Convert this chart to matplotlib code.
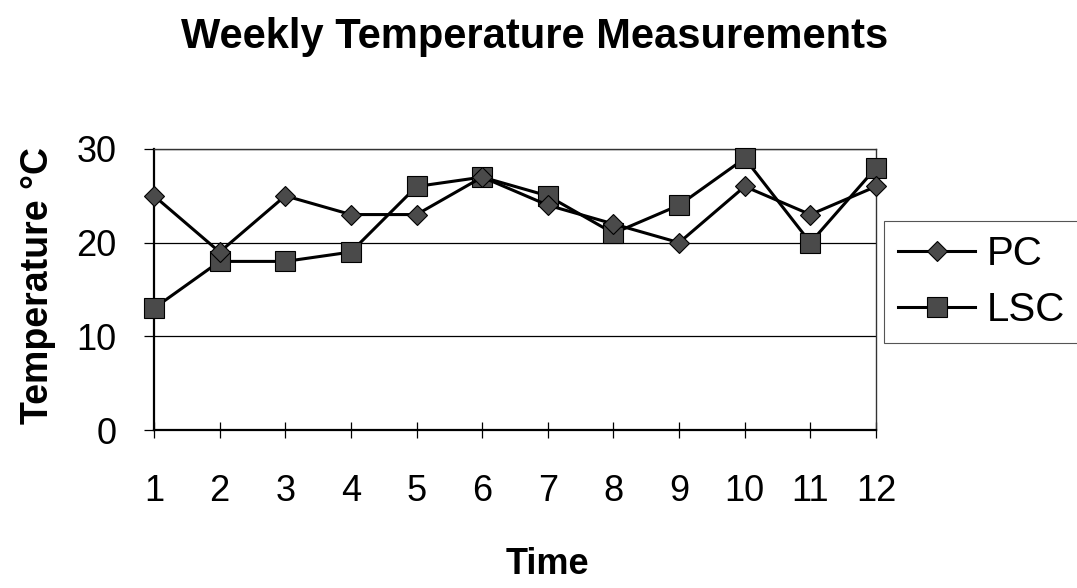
import matplotlib.pyplot as plt
import numpy as np

plt.rcParams["font.family"] = ["Liberation Sans", "DejaVu Sans"]

# Weekly readings (deg C)
weeks = np.arange(1, 13)
pc_temp = [25, 19, 25, 23, 23, 27, 24, 22, 20, 26, 23, 26]
lsc_temp = [13, 18, 18, 19, 26, 27, 25, 21, 24, 29, 20, 28]
y_ticks = [0, 10, 20, 30]

fig = plt.figure(figsize=(10.77, 5.88), dpi=100)
ax = fig.add_axes([0.143, 0.2687, 0.6704, 0.4779])

marker_fill = "#4a4a4a"
ax.plot(weeks, pc_temp, color="black", lw=2.2, marker="D", ms=10,
        mfc=marker_fill, mec="black", mew=0.8, label="PC", clip_on=False, zorder=4)
ax.plot(weeks, lsc_temp, color="black", lw=2.2, marker="s", ms=14,
        mfc=marker_fill, mec="black", mew=0.8, label="LSC", clip_on=False, zorder=3)

ax.set_xlim(1, 12)
ax.set_ylim(0, 30)
ax.set_xticks(weeks)
ax.set_yticks(y_ticks)
ax.yaxis.grid(True, color="black", lw=0.9)
ax.set_axisbelow(True)

for side in ["left", "bottom"]:
    ax.spines[side].set_linewidth(1.6)
for side in ["top", "right"]:
    ax.spines[side].set_linewidth(1.0)
    ax.spines[side].set_color("#333333")

ax.tick_params(axis="x", direction="inout", length=12, width=0.9, pad=26, labelsize=26)
ax.tick_params(axis="y", direction="out", length=7, width=0.9, pad=20, labelsize=26)

fig.text(0.496, 0.937, "Weekly Temperature Measurements", ha="center", va="center",
         fontsize=30, fontweight="bold")
fig.text(0.035, 0.515, "Temperature \u00b0C", ha="center", va="center",
         rotation=90, fontsize=27, fontweight="bold")
fig.text(0.508, 0.04, "Time", ha="center", va="center",
         fontsize=26, fontweight="bold")

leg = fig.legend(loc="center left", bbox_to_anchor=(0.821, 0.52), fontsize=29,
                 handlelength=1.9, handletextpad=0.3, borderpad=0.35,
                 labelspacing=0.45, fancybox=False, framealpha=1,
                 edgecolor="#555555", borderaxespad=0)
leg.get_frame().set_linewidth(0.8)

fig.savefig("out.png", dpi=100)
